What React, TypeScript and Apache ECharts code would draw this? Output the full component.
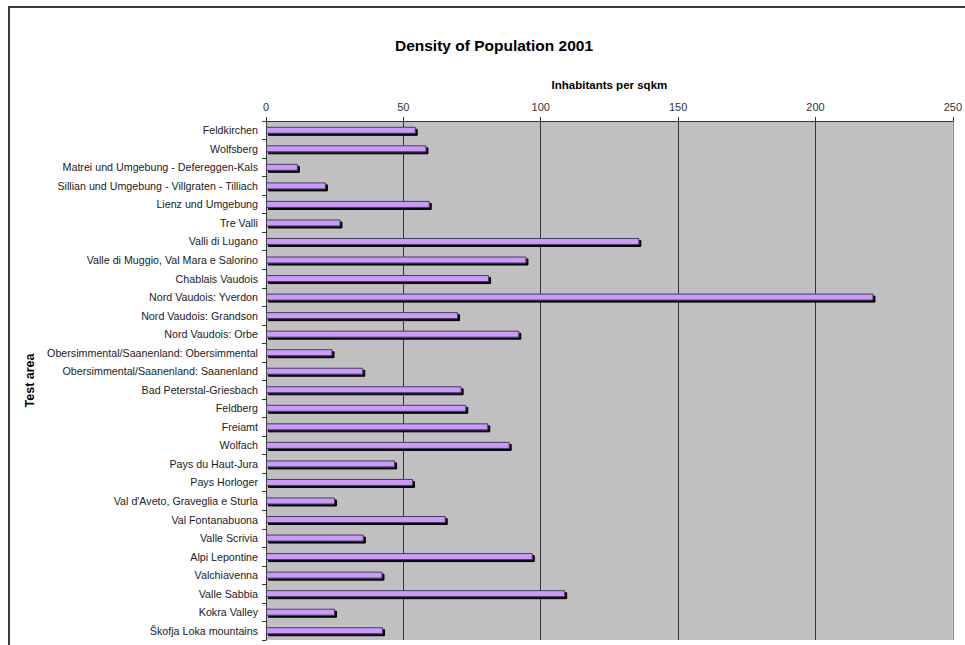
import React, { useEffect, useRef } from "react";
import * as echarts from "echarts";

// Test areas, listed top to bottom
const areas: string[] = [
  "Feldkirchen",
  "Wolfsberg",
  "Matrei und Umgebung - Defereggen-Kals",
  "Sillian und Umgebung - Villgraten - Tilliach",
  "Lienz und Umgebung",
  "Tre Valli",
  "Valli di Lugano",
  "Valle di Muggio, Val Mara e Salorino",
  "Chablais Vaudois",
  "Nord Vaudois: Yverdon",
  "Nord Vaudois: Grandson",
  "Nord Vaudois: Orbe",
  "Obersimmental/Saanenland: Obersimmental",
  "Obersimmental/Saanenland: Saanenland",
  "Bad Peterstal-Griesbach",
  "Feldberg",
  "Freiamt",
  "Wolfach",
  "Pays du Haut-Jura",
  "Pays Horloger",
  "Val d'Aveto, Graveglia e Sturla",
  "Val Fontanabuona",
  "Valle Scrivia",
  "Alpi Lepontine",
  "Valchiavenna",
  "Valle Sabbia",
  "Kokra Valley",
  "Škofja Loka mountains",
];

// Inhabitants per square kilometre, 2001
const density: number[] = [
  54.5, 58.4, 11.6, 21.8, 59.6, 27.1, 135.9, 94.8, 81.2, 221.1, 69.9, 92.2,
  24.2, 35.4, 71.2, 72.9, 80.9, 88.7, 47.0, 53.5, 25.1, 65.4, 35.6, 97.1,
  42.4, 108.9, 25.1, 42.6,
];

const axisMin = 0;
const axisMax = 250;
const axisStep = 50;

const FONT = "'Liberation Sans', Arial, sans-serif";

export default function App() {
  const ref = useRef<HTMLDivElement>(null);

  useEffect(() => {
    if (!ref.current) return;
    const chart = echarts.init(ref.current, undefined, { renderer: "svg" });
    chart.setOption({
      animation: false,
      backgroundColor: "#ffffff",
      grid: {
        left: 266,
        right: 11,
        top: 121,
        bottom: 5,
        show: true,
        backgroundColor: "#c0c0c0",
        borderWidth: 0,
      },
      graphic: [
        {
          type: "rect",
          shape: { x: 9, y: 7, width: 1400, height: 1400 },
          style: { fill: "none", stroke: "#3a3a3a", lineWidth: 2 },
          silent: true,
        },
        {
          type: "text",
          x: 494,
          y: 45,
          style: {
            text: "Density of Population 2001",
            font: `bold 15.5px ${FONT}`,
            fill: "#000",
            textAlign: "center",
            textVerticalAlign: "middle",
          },
        },
      ],
      xAxis: {
        type: "value",
        position: "top",
        min: axisMin,
        max: axisMax,
        interval: axisStep,
        name: "Inhabitants per sqkm",
        nameLocation: "middle",
        nameGap: 30,
        nameTextStyle: {
          fontFamily: FONT,
          fontSize: 11.5,
          fontWeight: "bold",
          color: "#000",
        },
        axisLine: { show: true, lineStyle: { color: "#333", width: 1 } },
        axisTick: { show: true, inside: false, length: 4, lineStyle: { color: "#333" } },
        axisLabel: {
          margin: 9,
          fontFamily: FONT,
          fontSize: 11,
          color: "#333",
        },
        splitLine: {
          show: true,
          lineStyle: {
            color: ["#333", "#333", "#333", "#333", "#333", "#8a8a8a"],
            width: 1,
          },
        },
      },
      yAxis: {
        type: "category",
        inverse: true,
        data: areas,
        name: "Test area",
        nameLocation: "middle",
        nameGap: 217,
        nameRotate: 90,
        nameTextStyle: {
          fontFamily: FONT,
          fontSize: 12.5,
          fontWeight: "bold",
          color: "#000",
        },
        axisLine: { show: true, lineStyle: { color: "#333", width: 1 } },
        axisTick: { show: true, inside: false, length: 4, lineStyle: { color: "#333" } },
        axisLabel: {
          margin: 8,
          fontFamily: FONT,
          fontSize: 10.7,
          color: "#222",
        },
        splitLine: { show: false },
      },
      series: [
        {
          type: "bar",
          data: density,
          barWidth: 7,
          itemStyle: {
            color: "#cc99ff",
            borderColor: "#4a3a5a",
            borderWidth: 1,
            shadowColor: "#000",
            shadowBlur: 0,
            shadowOffsetX: 2,
            shadowOffsetY: 2,
          },
          emphasis: { disabled: true },
        },
      ],
    });
    return () => chart.dispose();
  }, []);

  return (
    <div
      ref={ref}
      style={{ position: "absolute", left: 0, top: 0, width: 965, height: 645 }}
    />
  );
}
